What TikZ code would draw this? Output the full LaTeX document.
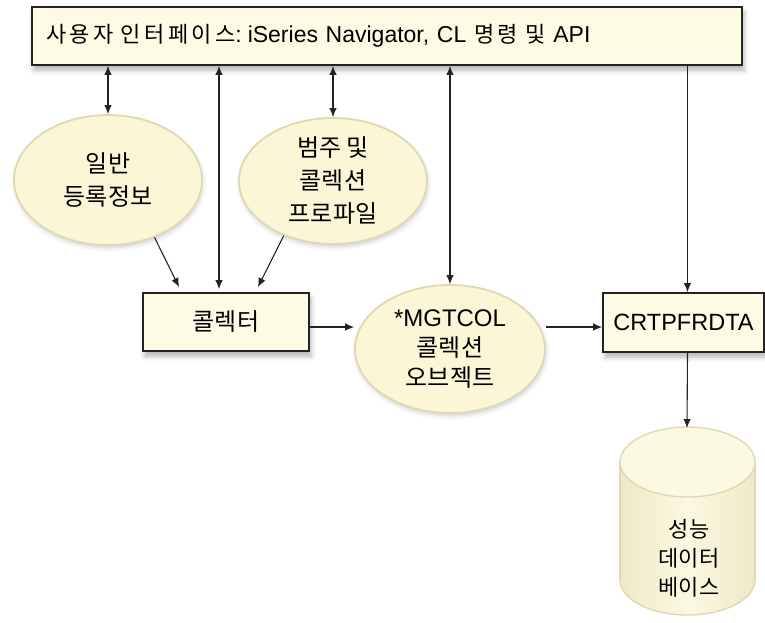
\documentclass[tikz,border=0pt]{standalone}
\usepackage{fontspec}
\setmainfont{Liberation Sans}
\newfontfamily\kr{Noto Sans CJK KR}
\newfontfamily\krwide[LetterSpace=15]{Noto Sans CJK KR}
\usetikzlibrary{arrows.meta,shapes.geometric,shadows.blur}

\definecolor{boxfill}{RGB}{253,251,228}
\definecolor{ellfill}{RGB}{250,246,214}
\definecolor{ellline}{RGB}{224,216,180}
\definecolor{cylside}{RGB}{238,232,198}
\definecolor{cylmid}{RGB}{252,249,226}
\definecolor{linecol}{RGB}{35,35,35}

\tikzset{
  boxnode/.style={rectangle, draw=linecol, line width=1.8pt, fill=boxfill,
    inner sep=0pt,
    blur shadow={shadow xshift=2pt, shadow yshift=-5pt, shadow blur radius=5pt, shadow opacity=30}},
  blob/.style={ellipse, draw=ellline, line width=1.8pt, fill=ellfill, inner sep=0pt,
    blur shadow={shadow xshift=1pt, shadow yshift=-3pt, shadow blur radius=4pt, shadow opacity=18}},
  kortext/.style={font=\kr\fontsize{24}{33}\selectfont, align=center},
  tip/.tip={Latex[length=9pt,width=7.5pt]},
  arr/.style={draw=linecol, line width=1.1pt, -tip},
  darr/.style={draw=linecol, line width=1.1pt, tip-tip},
}

\begin{document}
\begin{tikzpicture}[x=1pt,y=-1pt]
\useasboundingbox (0,0) rectangle (765,622);

% user interface bar
\node[boxnode, minimum width=710pt, minimum height=58pt, text width=682pt,
      inner xsep=14pt, align=left, font=\fontsize{23}{26}\selectfont]
  (top) at (387,36) {{\krwide\fontsize{22}{26}\selectfont 사용자 인터페이스}:\hspace{6pt}iSeries Navigator, CL {\krwide\fontsize{22}{26}\selectfont 명령 및} API};

% definitions
\node[blob, minimum width=188pt, minimum height=130pt, kortext] (e1) at (108,180) {일반\\등록정보};
\node[blob, minimum width=188pt, minimum height=126pt, kortext] (e2) at (333,181) {범주 및\\콜렉션\\프로파일};

% collector and collection object
\node[boxnode, minimum width=166pt, minimum height=58pt, kortext] (col) at (226,322) {콜렉터};
\node[blob, minimum width=190pt, minimum height=128pt, font=\fontsize{24}{30}\selectfont, align=center]
  (mg) at (450,349) {*MGTCOL\\{\kr 콜렉션}\\{\kr 오브젝트}};

% CRTPFRDTA command
\node[boxnode, minimum width=161pt, minimum height=59pt, font=\fontsize{23.5}{26}\selectfont]
  (crt) at (683.5,322.5) {CRTPFRDTA};

% performance database cylinder
\shade[left color=cylside, right color=cylside, middle color=cylmid]
  (687.5pt,-580pt) ellipse [x radius=67.5pt, y radius=35pt];
\draw[ellline, line width=1.4pt] (687.5pt,-580pt) ellipse [x radius=67.5pt, y radius=35pt];
\shade[left color=cylside, right color=cylside, middle color=cylmid] (620,462) rectangle (755,580);
\draw[ellline, line width=1.4pt] (620,462) -- (620,580) (755,462) -- (755,580);
\draw[ellline, line width=1.4pt, fill=cylmid] (687.5pt,-462pt) ellipse [x radius=67.5pt, y radius=35pt];
\coordinate (dbtop) at (687,428);
\node[kortext, font=\kr\fontsize{22}{29}\selectfont] (db) at (689,558) {성능\\데이터\\베이스};

% connectors to the user interface
\draw[darr] (e1.north |- top.south) -- (e1.north);
\draw[darr] ([xshift=-7pt]col.north |- top.south) -- ([xshift=-7pt,yshift=3pt]col.north);
\draw[darr] (e2.north |- top.south) -- (e2.north);
\draw[darr] (mg.north |- top.south) -- (mg.north);
\draw[arr] ([xshift=4pt]crt.north |- top.south) -- ([xshift=4pt]crt.north);

% definitions into the collector
\draw[arr] (e1.-51) -- ([xshift=37pt,yshift=5pt]col.north west);
\draw[arr] (e2.-132) -- ([xshift=-52pt,yshift=5pt]col.north east);

% data flow
\draw[arr] ([yshift=-5pt]col.east) -- ([yshift=-5pt]col.east -| mg.west);
\draw[arr] ([yshift=-5pt]col.east -| mg.east) -- ([yshift=-5pt]col.east -| crt.west);
\draw[arr] ([xshift=4pt]crt.south) -- (dbtop);
\end{tikzpicture}
\end{document}
